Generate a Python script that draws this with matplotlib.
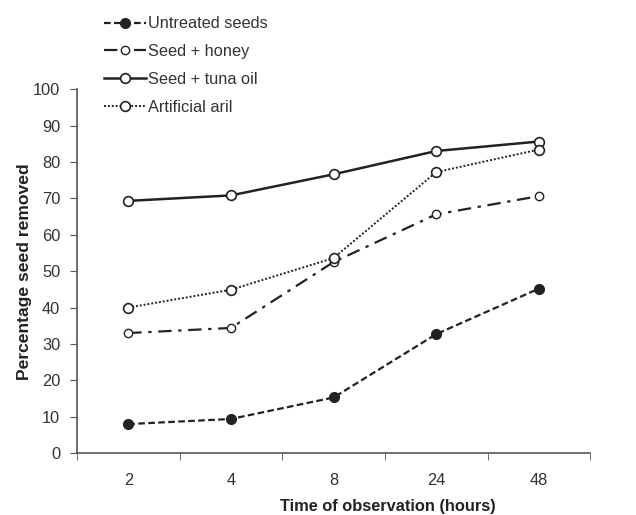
import numpy as np
import matplotlib
matplotlib.use("Agg")
import matplotlib.pyplot as plt

plt.rcParams['font.family'] = ['Liberation Sans', 'DejaVu Sans']

hours = ["2", "4", "8", "24", "48"]
untreated = [8.0, 9.4, 15.3, 32.7, 45.2]
honey = [33.0, 34.4, 52.5, 65.6, 70.6]
tuna_oil = [69.3, 70.8, 76.6, 83.0, 85.6]
aril = [40.0, 44.9, 53.6, 77.2, 83.4]

ink = "#222222"
fs = 11.8
x = np.arange(len(hours))

fig = plt.figure(figsize=(6.36, 5.15), dpi=100)
ax = fig.add_axes([0.121, 0.120, 0.807, 0.707])

ax.plot(x, untreated, ls=(0, (3, 1.5)), color=ink, lw=1.6, marker="o",
        ms=7, mfc=ink, mec=ink, label="Untreated seeds")
ax.plot(x, honey, ls=(0, (6, 3, 1.5, 3)), color=ink, lw=1.6, marker="o",
        ms=6, mfc="white", mec=ink, mew=1.0, label="Seed + honey")
ax.plot(x, tuna_oil, ls="-", color=ink, lw=1.8, marker="o",
        ms=7, mfc="white", mec=ink, mew=1.2, label="Seed + tuna oil")
ax.plot(x, aril, ls=(0, (1, 1)), color=ink, lw=1.4, marker="o",
        ms=7, mfc="white", mec=ink, mew=1.2, label="Artificial aril")

ax.set_xlim(-0.5, len(hours) - 0.5)
ax.set_ylim(0, 100)
ax.set_yticks(range(0, 101, 10))
ax.set_xticks(x)
ax.set_xticklabels(hours)
ax.set_xticks(np.arange(-0.5, len(hours), 1), minor=True)
ax.tick_params(axis="x", which="major", length=0, pad=14, labelsize=fs, colors="#333333")
ax.tick_params(axis="x", which="minor", length=5, direction="out", color="#555555")
ax.tick_params(axis="y", length=5, pad=7, labelsize=fs, colors="#333333", color="#555555")
ax.spines[["top", "right"]].set_visible(False)
ax.spines[["left", "bottom"]].set_color("#555555")
ax.spines[["left", "bottom"]].set_linewidth(1.2)

ax.set_xlabel("Time of observation (hours)", fontsize=fs, fontweight="bold", color="#222222")
ax.xaxis.set_label_coords(0.606, -0.127)
ax.set_ylabel("Percentage seed removed", fontsize=12.6, fontweight="bold", color="#222222", labelpad=1)

fig.legend(loc="upper left", bbox_to_anchor=(0.150, 0.984), frameon=False, borderpad=0,
           fontsize=fs, handlelength=2.6, handletextpad=0.1, labelspacing=0.78,
           labelcolor="#333333")

fig.savefig("out.png", dpi=100)
